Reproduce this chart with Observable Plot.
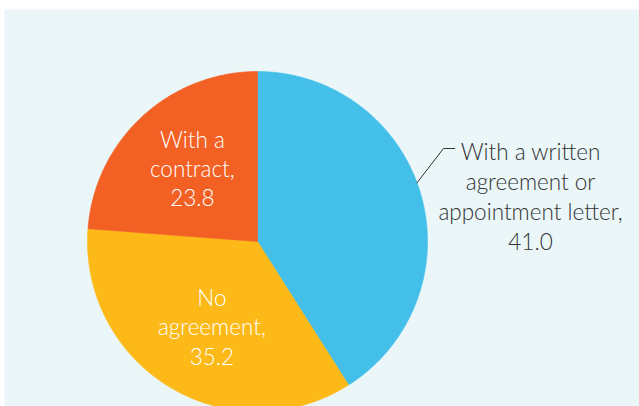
<!DOCTYPE html>
<html>
<head>
<meta charset="utf-8">
<script src="https://cdn.jsdelivr.net/npm/d3@7"></script>
<script src="https://cdn.jsdelivr.net/npm/@observablehq/plot@0.6"></script>
<style>
  html, body { margin: 0; padding: 0; background: #ffffff; overflow: hidden; }
  #chart svg { display: block; background: transparent; }
</style>
</head>
<body>
<div id="chart"></div>
<script>
const categories = ["With a written agreement or appointment letter", "No agreement", "With a contract"];
const values = [41.0, 35.2, 23.8];
const labels = ["With a written\nagreement or\nappointment letter,\n41.0", "No\nagreement,\n35.2", "With a\ncontract,\n23.8"];
const colors = ["#43BFEA", "#FCB917", "#F26024"];

const arcs = d3.pie().sort(null).value(d => d)(values);

// polygon points for each slice (unit circle, angle measured clockwise from 12 o'clock)
const points = [];
arcs.forEach((a, i) => {
  const cat = categories[i];
  points.push({cat, x: 0, y: 0});
  const n = Math.max(2, Math.ceil((a.endAngle - a.startAngle) / (Math.PI / 360)));
  for (let k = 0; k <= n; k++) {
    const t = a.startAngle + (a.endAngle - a.startAngle) * k / n;
    points.push({cat, x: Math.sin(t), y: Math.cos(t)});
  }
  points.push({cat, x: 0, y: 0});
});

const mid = a => (a.startAngle + a.endAngle) / 2;

// inner labels (slices 1 and 2)
const inner = [1, 2].map(i => {
  const m = mid(arcs[i]);
  const r = i === 1 ? 0.58 : 0.593;
  const shift = i === 1 ? 0.03 : 0.02;
  return {text: labels[i], x: r * Math.sin(m) + shift, y: r * Math.cos(m)};
});

// outer label for slice 0 with leader line
const m0 = mid(arcs[0]) - 0.07;
const leader = [
  {x: Math.sin(m0), y: Math.cos(m0)},
  {x: 1.094, y: 0.547},
  {x: 1.16, y: 0.547}
];
const outer = [{text: labels[0], x: 1.606, y: 0.272}];

const chart = Plot.plot({
  width: 639,
  height: 406,
  margin: 0,
  x: {domain: [-1, 1], range: [87, 427], axis: null},
  y: {domain: [-1, 1], range: [411, 71], axis: null},
  color: {domain: categories, range: colors},
  style: {background: "transparent", fontFamily: "Lato, 'Open Sans', sans-serif"},
  marks: [
    Plot.frame({fill: "#EAF6F8", stroke: null, insetLeft: 4, insetTop: 9}),
    Plot.line(points, {x: "x", y: "y", z: "cat", fill: "cat", stroke: "cat", strokeWidth: 0.6, curve: "linear"}),
    Plot.line(leader, {x: "x", y: "y", stroke: "#333333", strokeWidth: 1}),
    Plot.text(inner, {x: "x", y: "y", text: "text", fill: "white", fontSize: 22.5, lineHeight: 1.31, fontWeight: 300}),
    Plot.text(outer, {x: "x", y: "y", text: "text", fill: "#333333", fontSize: 22.5, lineHeight: 1.333, fontWeight: 300})
  ]
});
document.getElementById("chart").appendChild(chart);
</script>
</body>
</html>
